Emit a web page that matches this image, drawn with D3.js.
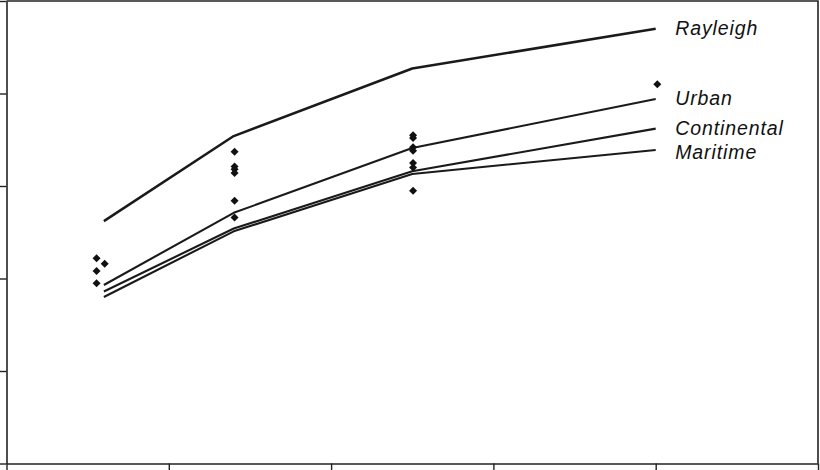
<!DOCTYPE html>
<html lang="en">
<head>
  <meta charset="UTF-8">
  <title>aerosol models</title>
  <style>
    body {
      margin: 0;
      background: #fff;
    }

    .frame, .domain {
      fill: none;
      stroke: #222;
      stroke-width: 1.6;
    }

    .tick line {
      stroke: #222;
      stroke-width: 1.4;
    }

    .tick text {
      display: none;
    }

    .model {
      fill: none;
      stroke: #1a1a1a;
      stroke-width: 2.1;
      stroke-linejoin: round;
    }

    .model.Rayleigh {
      stroke-width: 2.5;
    }

    .obs {
      fill: #111;
    }

    .model-label {
      font-family: 'Liberation Sans', Arial, sans-serif;
      font-style: italic;
      font-size: 19.5px;
      letter-spacing: 0.9px;
      fill: #111;
    }
  </style>
</head>
<body>
  <script src="https://d3js.org/d3.v7.min.js"></script>
  <script>
    var width = 820,
      height = 470;

    // wavelength (nm) of the model curves
    var wavelengths = [460, 540, 650, 800];

    var rayleigh    = [0.262, 0.354, 0.427, 0.470];
    var urban       = [0.193, 0.271, 0.341, 0.394];
    var continental = [0.186, 0.254, 0.316, 0.362];
    var maritime    = [0.180, 0.251, 0.313, 0.339];

    var modelNames = ['Rayleigh', 'Urban', 'Continental', 'Maritime'];

    // measurements (wavelength, value)
    var obsX = [455.5, 460.5, 455.5, 455.5,
      540.5, 540.5, 540.5, 540.5, 540.5, 540.5,
      650.5, 650.5, 650.5, 650.5, 650.5, 650.5, 650.5,
      801];
    var obsY = [0.222, 0.216, 0.208, 0.195,
      0.337, 0.321, 0.318, 0.314, 0.284, 0.266,
      0.355, 0.352, 0.342, 0.338, 0.325, 0.320, 0.295,
      0.410];

    var xTicks = [400, 500, 600, 700, 800, 900];
    var yTicks = [0, 0.1, 0.2, 0.3, 0.4, 0.5];

    // baseline of each label, in data units
    var labelY = [0.463, 0.388, 0.355, 0.329];

    var svg = d3.select('body').append('svg')
      .attr('width', width)
      .attr('height', height);

    var x = d3.scaleLinear().domain([400, 900]).range([6.5, 818]);
    var y = d3.scaleLinear().domain([0, 0.5]).range([463.5, 1]);

    svg.append('path')
      .attr('class', 'frame')
      .attr('d', 'M' + x(400) + ',' + y(0.5) + 'H' + x(900) + 'V' + y(0));

    svg.append('g')
      .attr('transform', 'translate(0,' + y(0) + ')')
      .call(d3.axisBottom(x).tickValues(xTicks).tickSize(7).tickSizeOuter(0));

    svg.append('g')
      .attr('transform', 'translate(' + x(400) + ',0)')
      .call(d3.axisLeft(y).tickValues(yTicks).tickSize(7).tickSizeOuter(0));

    var line = d3.line()
      .x(function(d) { return x(d[0]); })
      .y(function(d) { return y(d[1]); });

    var series = [rayleigh, urban, continental, maritime];

    svg.selectAll('.model')
      .data(series)
      .enter().append('path')
      .attr('class', function(d, i) { return 'model ' + modelNames[i]; })
      .attr('d', function(d) {
        return line(d.map(function(v, i) { return [wavelengths[i], v]; }));
      });

    // square turned 45 degrees, like the plotted diamonds
    var diamond = d3.symbol().type(d3.symbolSquare).size(32);

    svg.selectAll('.obs')
      .data(obsX)
      .enter().append('path')
      .attr('class', 'obs')
      .attr('transform', function(d, i) {
        return 'translate(' + x(d) + ',' + y(obsY[i]) + ') rotate(45)';
      })
      .attr('d', diamond);

    svg.selectAll('.model-label')
      .data(modelNames)
      .enter().append('text')
      .attr('class', 'model-label')
      .attr('x', x(812))
      .attr('y', function(d, i) { return y(labelY[i]); })
      .text(function(d) { return d; });
  </script>
</body>
</html>
